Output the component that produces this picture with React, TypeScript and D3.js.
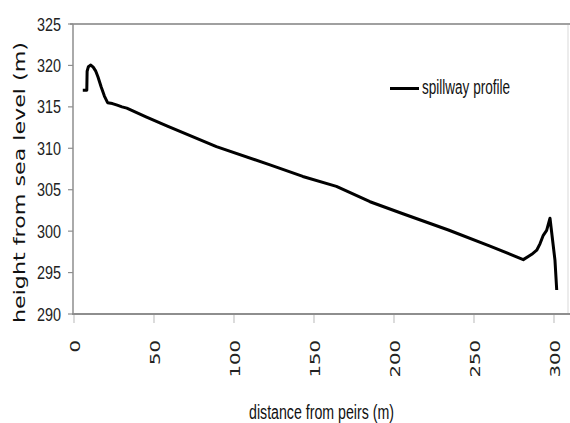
import React from "react";
import * as d3 from "d3";

const distance = [5.5, 8.0, 8.2, 9.0, 10.5, 12.0, 13.5, 15.0, 17.0, 19.0, 21.0, 24.0, 27.0, 30.0, 33.0, 45.0, 58.0, 89.0, 122.5, 143.0, 164.0, 185.0, 206.0, 234.0, 260.0, 280.8, 286.1, 289.2, 291.3, 293.3, 295.4, 297.5, 300.6, 301.7];
const height = [317.0, 317.0, 319.3, 319.85, 320.05, 319.8, 319.35, 318.6, 317.4, 316.3, 315.5, 315.4, 315.2, 315.0, 314.85, 313.8, 312.7, 310.2, 308.0, 306.6, 305.4, 303.55, 302.07, 300.14, 298.2, 296.56, 297.2, 297.7, 298.5, 299.5, 300.1, 301.56, 296.5, 292.9];
const xTicks = [0, 50, 100, 150, 200, 250, 300];
const yTicks = [290, 295, 300, 305, 310, 315, 320, 325];
const seriesName = "spillway profile";
const xTitle = "distance from peirs (m)";
const yTitle = "height from sea level (m)";

export default function App() {
  const W = 570, H = 423;
  const x = d3.scaleLinear().domain([0, 310]).range([74, 570]);
  const y = d3.scaleLinear().domain([290, 325]).range([314, 24]);
  const pts: [number, number][] = distance.map((d, i) => [d, height[i]]);
  const line = d3.line<[number, number]>().x(d => x(d[0])).y(d => y(d[1]));
  const axisGray = "#8e8e8e";
  return (
    <svg width={W} height={H} style={{ position: "absolute", left: 0, top: 0, background: "#fff" }}>
      <rect x={0} y={0} width={W} height={H} fill="#fff" />
      <line x1={568} x2={568} y1={y(325)} y2={y(290)} stroke="#d9d9d9" strokeWidth={1} />
      <line x1={70} x2={570} y1={y(325)} y2={y(325)} stroke="#a0a0a0" strokeWidth={2} />
      {yTicks.map(t => (
        <g key={"y" + t}>
          <line x1={68} x2={73} y1={y(t)} y2={y(t)} stroke={axisGray} strokeWidth={1.2} />
          <text x={0} y={0} transform={`translate(61, ${y(t) + 6.5}) scale(0.8,1)`} textAnchor="end"
            fontFamily="Liberation Sans, Arial, sans-serif" fontSize={18} fill="#222">{t}</text>
        </g>
      ))}
      {xTicks.map(t => (
        <g key={"x" + t}>
          <line x1={x(t)} x2={x(t)} y1={314} y2={323} stroke="#c4c4c4" strokeWidth={1.2} />
          <text x={0} y={0} transform={`translate(${x(t) + 6}, 340) rotate(-90) scale(1.4,1)`} textAnchor="end"
            fontFamily="DejaVu Sans, Verdana, sans-serif" fontSize={14} fill="#222">{t}</text>
        </g>
      ))}
      <line x1={73} x2={73} y1={y(325)} y2={y(290)} stroke={axisGray} strokeWidth={1.5} />
      <line x1={72} x2={570} y1={y(290)} y2={y(290)} stroke={axisGray} strokeWidth={2} />
      <path d={line(pts) || ""} fill="none" stroke="#000" strokeWidth={3} strokeLinejoin="round" strokeLinecap="butt" />
      <line x1={390} x2={419} y1={88.5} y2={88.5} stroke="#000" strokeWidth={3} />
      <text x={422} y={94} fontFamily="Liberation Sans, Arial, sans-serif" fontSize={19.5} fill="#111"
        textLength={88} lengthAdjust="spacingAndGlyphs">{seriesName}</text>
      <text x={249} y={419} fontFamily="Liberation Sans, Arial, sans-serif" fontSize={19.5} fill="#111"
        textLength={145} lengthAdjust="spacingAndGlyphs">{xTitle}</text>
      <text x={0} y={0} transform="translate(25, 323) rotate(-90)" fontFamily="DejaVu Sans, Verdana, sans-serif"
        fontSize={15} fill="#111" textLength={281} lengthAdjust="spacingAndGlyphs">{yTitle}</text>
    </svg>
  );
}
